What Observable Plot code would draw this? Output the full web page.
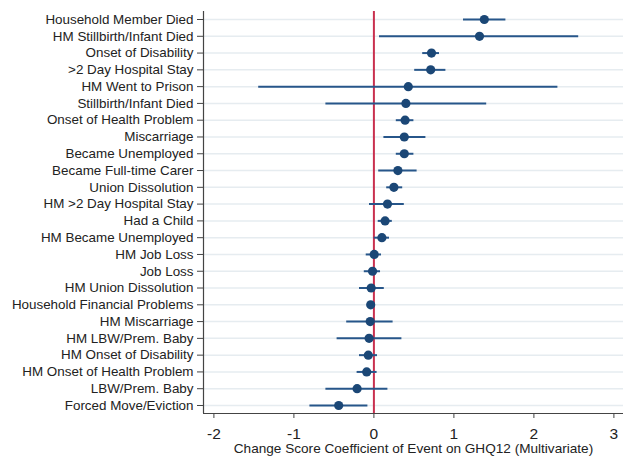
<!DOCTYPE html>
<html>
<head>
<meta charset="utf-8">
<script src="https://cdn.jsdelivr.net/npm/d3@7"></script>
<script src="https://cdn.jsdelivr.net/npm/@observablehq/plot@0.6"></script>
<style>
  html, body { margin: 0; padding: 0; background: #fff; }
  #chart svg { display: block; }
</style>
</head>
<body>
<div id="chart"></div>
<script>
const events = [
  "Household Member Died", "HM Stillbirth/Infant Died", "Onset of Disability",
  ">2 Day Hospital Stay", "HM Went to Prison", "Stillbirth/Infant Died",
  "Onset of Health Problem", "Miscarriage", "Became Unemployed",
  "Became Full-time Carer", "Union Dissolution", "HM >2 Day Hospital Stay",
  "Had a Child", "HM Became Unemployed", "HM Job Loss", "Job Loss",
  "HM Union Dissolution", "Household Financial Problems", "HM Miscarriage",
  "HM LBW/Prem. Baby", "HM Onset of Disability", "HM Onset of Health Problem",
  "LBW/Prem. Baby", "Forced Move/Eviction"
];
const coef = [1.38, 1.32, 0.72, 0.71, 0.43, 0.40, 0.39, 0.38, 0.38, 0.30, 0.25, 0.17,
  0.14, 0.10, 0.004, -0.017, -0.034, -0.04, -0.046, -0.06, -0.07, -0.09, -0.21, -0.44];
const ciLow = [1.12, 0.07, 0.61, 0.51, -1.44, -0.60, 0.28, 0.125, 0.28, 0.06, 0.16, -0.055,
  0.054, 0.004, -0.096, -0.12, -0.18, -0.07, -0.34, -0.46, -0.18, -0.21, -0.60, -0.80];
const ciHigh = [1.65, 2.56, 0.82, 0.90, 2.30, 1.41, 0.50, 0.65, 0.50, 0.54, 0.36, 0.38,
  0.23, 0.195, 0.095, 0.083, 0.13, -0.01, 0.24, 0.35, 0.045, 0.04, 0.175, -0.075];
const xTicks = [-2, -1, 0, 1, 2, 3];
const xDomain = [-2.13, 3.12];
const yDomain = [events.length - 1 + 0.477, -0.477];
const xLabel = "Change Score Coefficient of Event on GHQ12 (Multivariate)";

const data = events.map((e, i) => ({i, event: e, coef: coef[i], lo: ciLow[i], hi: ciHigh[i]}));
const idx = events.map((_, i) => i);

const chart = Plot.plot({
  width: 629,
  height: 463,
  marginLeft: 203,
  marginRight: 6,
  marginTop: 11,
  marginBottom: 50,
  style: {fontFamily: "'Liberation Sans', Arial, sans-serif", color: "#222", background: "#fff"},
  x: {domain: xDomain},
  y: {domain: yDomain},
  marks: [
    Plot.ruleY(idx, {y: d => d, stroke: "#e6ecf0", strokeWidth: 1.5}),
    Plot.ruleX([xDomain[0]], {stroke: "#444", strokeWidth: 1.2}),
    Plot.ruleY([yDomain[0]], {stroke: "#444", strokeWidth: 1.2}),
    Plot.ruleX([0], {stroke: "#c9304f", strokeWidth: 2}),
    Plot.ruleY(data, {y: "i", x1: "lo", x2: "hi", stroke: "#27568a", strokeWidth: 2}),
    Plot.dot(data, {x: "coef", y: "i", r: 4.6, fill: "#1b4776", stroke: "none"}),
    Plot.axisY({ticks: idx, tickFormat: i => events[i], tickSize: 6, tickPadding: 4,
      fontSize: 13.4, stroke: "#444", fill: "#222", label: null}),
    Plot.axisX({ticks: xTicks, tickFormat: d => String(d).replace("−", "-"), tickSize: 5, tickPadding: 9,
      fontSize: 15.5, stroke: "#444", fill: "#222", label: null}),
    Plot.text([xLabel], {text: d => d, frameAnchor: "bottom", lineAnchor: "middle", dy: 35,
      fontSize: 13.6, fill: "#222"})
  ]
});
document.getElementById("chart").appendChild(chart);
</script>
</body>
</html>
